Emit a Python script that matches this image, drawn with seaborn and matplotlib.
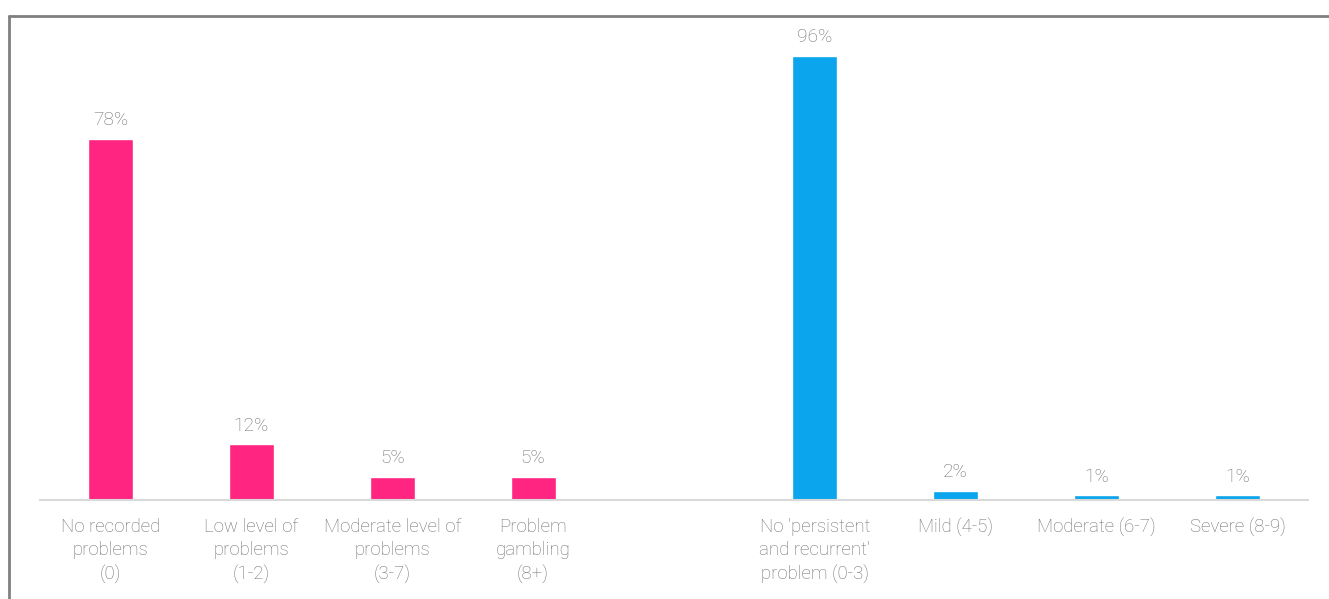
import matplotlib
matplotlib.use("Agg")
import matplotlib.pyplot as plt
from matplotlib.lines import Line2D
import seaborn as sns
import pandas as pd
import numpy as np

# Problem gambling severity (PGSI) and DSM-style classification shares
pgsi_labels = ["No recorded\nproblems\n(0)", "Low level of\nproblems\n(1-2)",
               "Moderate level of\nproblems\n(3-7)", "Problem\ngambling\n(8+)"]
pgsi_values = [78, 12, 5, 5]
dsm_labels = ["No 'persistent\nand recurrent'\nproblem (0-3)", "Mild (4-5)",
              "Moderate (6-7)", "Severe (8-9)"]
dsm_values = [96, 2, 1, 1]
gap_label = " "
pink = "#FF2580"
blue = "#0AA5EC"
text_grey = "#707070"

df = pd.DataFrame({
    "category": pgsi_labels + dsm_labels,
    "value": pgsi_values + dsm_values,
    "group": ["pgsi"] * len(pgsi_labels) + ["dsm"] * len(dsm_labels),
})
order = pgsi_labels + [gap_label] + dsm_labels

sns.set_theme(style="white")
plt.rcParams["font.family"] = ["Roboto", "DejaVu Sans"]

fig = plt.figure(figsize=(13.29, 5.99), dpi=100)
W, H = 1329, 599
ax = fig.add_axes([40 / W, 1 - 500 / H, (1308 - 40) / W, (500 - 37) / H])

sns.barplot(data=df, x="category", y="value", hue="group", order=order,
            palette={"pgsi": pink, "dsm": blue}, dodge=False, width=0.32,
            legend=False, ax=ax, saturation=1)

ax.set_ylim(0, 100)
ax.set_xlim(-0.5, len(order) - 0.5)
ax.set_xlabel("")
ax.set_ylabel("")
ax.set_yticks([])
for s in ["left", "right", "top"]:
    ax.spines[s].set_visible(False)
ax.spines["bottom"].set_color("#d9d9d9")
ax.spines["bottom"].set_linewidth(1.5)

ax.set_xticks(range(len(order)))
ax.set_xticklabels(order, fontsize=13.4, color=text_grey, linespacing=1.37,
                   va="top", fontweight="light")
ax.tick_params(axis="x", which="major", length=0, pad=13)
ax.set_xticks(np.arange(-0.5, len(order), 1.0), minor=True)
ax.tick_params(axis="x", which="minor", length=7, width=1.2, color="#d9d9d9",
               direction="out")

for cont in ax.containers:
    for bar in cont:
        h = bar.get_height()
        if np.isnan(h):
            continue
        ax.annotate(f"{h:.0f}%", (bar.get_x() + bar.get_width() / 2, h),
                    xytext=(0, 7), textcoords="offset points", ha="center",
                    va="bottom", fontsize=13.8, color=text_grey,
                    fontweight="light")

# outer frame lines
fig.add_artist(Line2D([9 / W, 9 / W], [0, 1 - 16 / H], transform=fig.transFigure,
                      color="#808080", lw=2))
fig.add_artist(Line2D([9 / W, 1], [1 - 16 / H, 1 - 16 / H], transform=fig.transFigure,
                      color="#808080", lw=2))

fig.savefig("out.png", dpi=100, facecolor="white")
